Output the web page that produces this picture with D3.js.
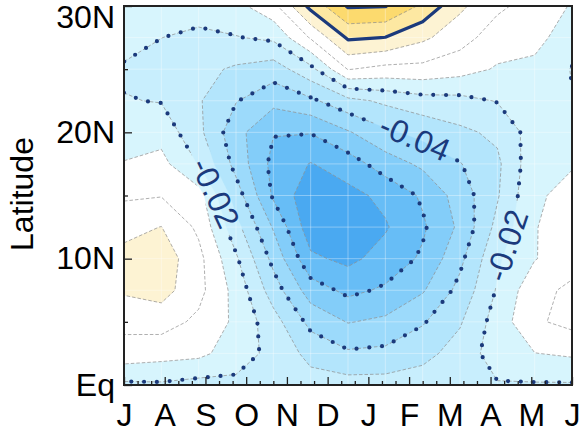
<!DOCTYPE html>
<html>
<head>
<meta charset="utf-8">
<script src="https://cdn.jsdelivr.net/npm/d3@7"></script>
<style>
  html, body { margin: 0; padding: 0; background: #ffffff; }
  svg { display: block; }
  text { font-family: "Liberation Sans", Arial, Helvetica, sans-serif; }
</style>
</head>
<body>
<svg id="chart" width="579" height="432"></svg>
<script>
// ---- axis labels ----
const monthLabels = ["J", "A", "S", "O", "N", "D", "J", "F", "M", "A", "M", "J"];
const latTickValues = [0, 10, 20, 30];
const latTickLabels = ["Eq", "10N", "20N", "30N"];
const latitudes = [0, 2.5, 5, 7.5, 10, 12.5, 15, 17.5, 20, 22.5, 25, 27.5, 30];

// ---- anomaly field: one array per month (Jul .. following Jul), Eq -> 30N ----
const jul     = [-0.022, -0.004, 0.0027, 0.0114, 0.013, 0.007, -0.0015, -0.0095, -0.0145, -0.0195, -0.0215, -0.0152, -0.013];
const aug     = [-0.0215, -0.006, 0.004, 0.014, 0.016, 0.0102, -0.0005, -0.007, -0.0135, -0.0205, -0.0235, -0.0199, -0.014];
const sep     = [-0.0235, -0.0075, -0.002, 0.003, 0.003, -0.002, -0.0059, -0.0206, -0.0275, -0.029, -0.027, -0.0225, -0.015];
const oct     = [-0.0225, -0.015, -0.012, -0.0135, -0.0185, -0.0265, -0.035, -0.0435, -0.0465, -0.0395, -0.0315, -0.0205, -0.013];
const nov     = [-0.0245, -0.023, -0.026, -0.035, -0.043, -0.051, -0.0615, -0.063, -0.0595, -0.047, -0.035, -0.018, -0.003];
const dec     = [-0.026, -0.033, -0.043, -0.055, -0.068, -0.076, -0.077, -0.0705, -0.0595, -0.042, -0.023, 0.001, 0.023];
const jan     = [-0.026, -0.0385, -0.0505, -0.0625, -0.0725, -0.0755, -0.073, -0.065, -0.051, -0.033, 0.0005, 0.0215, 0.041];
const feb     = [-0.026, -0.0375, -0.048, -0.0585, -0.066, -0.071, -0.0675, -0.055, -0.042, -0.028, -0.003, 0.0198, 0.0405];
const mar     = [-0.025, -0.033, -0.041, -0.051, -0.0585, -0.0615, -0.0585, -0.048, -0.037, -0.024, -0.003, 0.012, 0.028];
const apr     = [-0.0235, -0.026, -0.031, -0.037, -0.0425, -0.048, -0.0455, -0.0405, -0.032, -0.023, -0.006, 0.004, 0.012];
const may     = [-0.0208, -0.015, -0.0155, -0.019, -0.0215, -0.027, -0.031, -0.032, -0.028, -0.0195, -0.011, -0.005, 0.002];
const jun     = [-0.021, -0.0102, -0.0015, -0.003, -0.0105, -0.0105, -0.011, -0.013, -0.015, -0.0165, -0.0124, -0.007, -0.004];
const julNext = [-0.021, -0.0085, 0.003, 0.002, -0.004, -0.005, -0.008, -0.0105, -0.016, -0.0195, -0.0205, -0.0152, -0.0108];
const monthColumns = [jul, aug, sep, oct, nov, dec, jan, feb, mar, apr, may, jun, julNext];

// ---- contour levels and shading ----
const fillLevels = [-0.07, -0.06, -0.05, -0.04, -0.03, -0.02, -0.01, 0, 0.01, 0.02, 0.03, 0.04];
const fillColors = ["#4aa9f1", "#67bdf6", "#83cdf9", "#9cdafb", "#b3e5fc", "#c8eefd", "#d7f5fd",
                    "#ffffff", "#ffffff", "#fdf3d3", "#fde8a2", "#fcda6e", "#f9cc4c"];
const dottedLevels = [-0.06, -0.04, -0.02];
const solidLevels = [0.02, 0.04];
const labelledLines = [
  { level: -0.02, text: "-0.02", near: [211, 195] },
  { level: -0.04, text: "-0.04", near: [416, 135] },
  { level: -0.02, text: "-0.02", near: [509, 246] }
];

const W = 579, H = 432;
const plot = { left: 124, top: 6, right: 572, bottom: 385 };
const nx = monthColumns.length, ny = latitudes.length;
const lineColor = "#1b3a7c";

const svg = d3.select("#chart");

const xData = d3.scaleLinear().domain([0, nx - 1]).range([plot.left, plot.right]);
const xMonth = d3.scaleLinear().domain([0, monthLabels.length - 1]).range([plot.left, plot.right]);
const yLat = d3.scaleLinear().domain([0, 30]).range([plot.bottom, plot.top]);

// grid values, row-major (x = month, y = latitude)
const values = new Array(nx * ny);
for (let j = 0; j < ny; j++)
  for (let i = 0; i < nx; i++) values[i + j * nx] = monthColumns[i][j];

// contour-space -> pixel (grid nodes sit at half-integer contour coordinates)
const gx = c => xData(Math.max(0, Math.min(nx - 1, c - 0.5)));
const gy = c => yLat(latitudes[0] + Math.max(0, Math.min(ny - 1, c - 0.5)) * (latitudes[1] - latitudes[0]));
const path = d3.geoPath(d3.geoTransform({ point(x, y) { this.stream.point(gx(x), gy(y)); } }));

const defs = svg.append("defs");
defs.append("clipPath").attr("id", "plotClip")
  .append("rect").attr("x", plot.left).attr("y", plot.top)
  .attr("width", plot.right - plot.left).attr("height", plot.bottom - plot.top);

const g = svg.append("g").attr("clip-path", "url(#plotClip)");

// ---- filled bands ----
g.append("rect").attr("x", plot.left).attr("y", plot.top)
  .attr("width", plot.right - plot.left).attr("height", plot.bottom - plot.top)
  .attr("fill", fillColors[0]);
const bands = d3.contours().size([nx, ny]).thresholds(fillLevels)(values);
g.append("g").selectAll("path").data(bands).join("path")
  .attr("d", path)
  .attr("fill", (d, i) => fillColors[i + 1])
  .attr("stroke", (d, i) => fillColors[i + 1])
  .attr("stroke-width", 0.3);

// faint cell edges of the shaded grid
const gridG = g.append("g").attr("stroke", "#ffffff").attr("stroke-opacity", 0.35).attr("stroke-width", 1);
d3.range(nx).forEach(i => gridG.append("line")
  .attr("x1", xData(i)).attr("x2", xData(i)).attr("y1", plot.top).attr("y2", plot.bottom));
latitudes.forEach(l => gridG.append("line")
  .attr("x1", plot.left).attr("x2", plot.right).attr("y1", yLat(l)).attr("y2", yLat(l)));

// ---- contour lines as open polylines (grid border segments removed) ----
function contourLines(level) {
  const mp = d3.contours().size([nx, ny]).thresholds([level])(values)[0];
  const out = [];
  const onBorder = (a, b) =>
    (a[0] <= 0.5 && b[0] <= 0.5) || (a[0] >= nx - 0.5 && b[0] >= nx - 0.5) ||
    (a[1] <= 0.5 && b[1] <= 0.5) || (a[1] >= ny - 0.5 && b[1] >= ny - 0.5);
  mp.coordinates.forEach(poly => poly.forEach(ring => {
    const n = ring.length - 1;
    let start = 0;
    for (let k = 0; k < n; k++) if (onBorder(ring[k], ring[k + 1])) { start = k + 1; break; }
    let cur = [];
    for (let s = 0; s < n; s++) {
      const k = (start + s) % n;
      const a = ring[k], b = ring[(k + 1) % n];
      if (onBorder(a, b)) { if (cur.length > 1) out.push(cur); cur = []; }
      else { if (!cur.length) cur.push(a); cur.push(b); }
    }
    if (cur.length > 1) out.push(cur);
  }));
  return out.map(l => l.map(p => [gx(p[0]), gy(p[1])]));
}
const line = d3.line();

// label placement along the drawn contour
const mask = defs.append("mask").attr("id", "labelGaps").attr("maskUnits", "userSpaceOnUse")
  .attr("x", 0).attr("y", 0).attr("width", W).attr("height", H);
mask.append("rect").attr("width", W).attr("height", H).attr("fill", "#fff");
const labelFont = 32;
const placed = labelledLines.map(spec => {
  let best = null;
  contourLines(spec.level).forEach(pts => {
    const p = svg.append("path").attr("d", line(pts)).attr("fill", "none");
    const node = p.node(), L = node.getTotalLength();
    for (let s = 0; s <= L; s += 1) {
      const q = node.getPointAtLength(s);
      const d = Math.hypot(q.x - spec.near[0], q.y - spec.near[1]);
      if (!best || d < best.d) {
        const a = node.getPointAtLength(Math.max(0, s - 18)), b = node.getPointAtLength(Math.min(L, s + 18));
        let ang = Math.atan2(b.y - a.y, b.x - a.x) * 180 / Math.PI;
        if (ang > 90) ang -= 180; if (ang < -90) ang += 180;
        best = { d, x: q.x, y: q.y, ang };
      }
    }
    p.remove();
  });
  return Object.assign({}, spec, best);
});
placed.forEach(p => {
  const w = p.text.length * labelFont * 0.5 + 8;
  mask.append("rect").attr("x", -w / 2).attr("y", -labelFont * 0.42).attr("width", w).attr("height", labelFont * 0.84)
    .attr("fill", "#000").attr("transform", `translate(${p.x},${p.y}) rotate(${p.ang})`);
});

const linesG = g.append("g").attr("mask", "url(#labelGaps)");
fillLevels.forEach(lv => {
  contourLines(lv).forEach(pts => linesG.append("path")
    .attr("d", line(pts)).attr("fill", "none")
    .attr("stroke", "#8c8c8c").attr("stroke-width", 0.7).attr("stroke-dasharray", "3.5 2"));
});
dottedLevels.forEach(lv => {
  contourLines(lv).forEach(pts => linesG.append("path")
    .attr("d", line(pts)).attr("fill", "none")
    .attr("stroke", lineColor).attr("stroke-width", 4.2).attr("stroke-linecap", "round")
    .attr("stroke-dasharray", "0 12.8"));
});
solidLevels.forEach(lv => {
  contourLines(lv).forEach(pts => linesG.append("path")
    .attr("d", line(pts)).attr("fill", "none")
    .attr("stroke", lineColor).attr("stroke-width", 3.2).attr("stroke-linejoin", "round"));
});

g.append("g").selectAll("text").data(placed).join("text")
  .attr("transform", d => `translate(${d.x},${d.y}) rotate(${d.ang})`)
  .attr("text-anchor", "middle").attr("dominant-baseline", "central")
  .attr("font-size", labelFont).attr("fill", lineColor)
  .text(d => d.text);

// ---- axes ----
const axisColor = "#222";
const xMinor = d3.range(0, monthLabels.length - 1 + 1e-9, 1 / 3).filter(v => Math.abs(v - Math.round(v)) > 1e-6);
svg.append("g").attr("transform", `translate(0,${plot.bottom})`)
  .call(d3.axisBottom(xMonth).tickValues(xMinor).tickSize(-4).tickFormat(""))
  .call(a => a.select(".domain").remove())
  .call(a => a.selectAll("line").attr("stroke", axisColor).attr("stroke-width", 1.3));
svg.append("g").attr("transform", `translate(0,${plot.bottom})`)
  .call(d3.axisBottom(xMonth).tickValues(d3.range(monthLabels.length)).tickSize(-8).tickPadding(18)
    .tickFormat(i => monthLabels[i]))
  .call(a => a.select(".domain").remove())
  .call(a => a.selectAll("line").attr("stroke", axisColor).attr("stroke-width", 1.3))
  .call(a => a.selectAll("text").attr("font-size", 32).attr("fill", "#000")
    .attr("font-family", "'Liberation Sans', Arial, sans-serif"));

svg.append("g").attr("transform", `translate(${plot.left},0)`)
  .call(d3.axisLeft(yLat).tickValues([5, 15, 25]).tickSize(-4).tickFormat(""))
  .call(a => a.select(".domain").remove())
  .call(a => a.selectAll("line").attr("stroke", axisColor).attr("stroke-width", 1.3));
svg.append("g").attr("transform", `translate(${plot.left},0)`)
  .call(d3.axisLeft(yLat).tickValues(latTickValues).tickSize(-8).tickPadding(9)
    .tickFormat((d, i) => latTickLabels[i]))
  .call(a => a.select(".domain").remove())
  .call(a => a.selectAll("line").attr("stroke", axisColor).attr("stroke-width", 1.3))
  .call(a => a.selectAll("text").attr("font-size", 32).attr("fill", "#000")
    .attr("font-family", "'Liberation Sans', Arial, sans-serif"))
  .call(a => a.selectAll(".tick").filter(d => d === 30).select("text").attr("dy", "0.66em"));

svg.append("rect").attr("x", plot.left).attr("y", plot.top)
  .attr("width", plot.right - plot.left).attr("height", plot.bottom - plot.top)
  .attr("fill", "none").attr("stroke", axisColor).attr("stroke-width", 2);

svg.append("text").attr("transform", `translate(33,194) rotate(-90)`)
  .attr("text-anchor", "middle").attr("font-size", 32).attr("fill", "#000")
  .text("Latitude");
</script>
</body>
</html>
